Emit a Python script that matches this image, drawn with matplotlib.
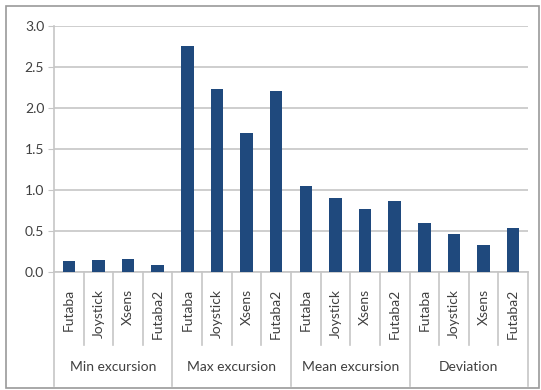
import matplotlib
matplotlib.use("Agg")
import matplotlib.pyplot as plt
from matplotlib.patches import Rectangle
import numpy as np

plt.rcParams['font.family'] = ['Lato', 'DejaVu Sans']

# data
groups = ['Min excursion', 'Max excursion', 'Mean excursion', 'Deviation']
devices = ['Futaba', 'Joystick', 'Xsens', 'Futaba2']
min_exc = [0.13, 0.15, 0.16, 0.09]
max_exc = [2.76, 2.23, 1.70, 2.21]
mean_exc = [1.05, 0.90, 0.77, 0.87]
deviation = [0.60, 0.46, 0.33, 0.54]

values = min_exc + max_exc + mean_exc + deviation
labels = devices * len(groups)

grid_col = '#c6c6c6'
txt_col = '#404040'
bar_col = '#1f497d'
fs = 10

fig = plt.figure(figsize=(5.41, 3.90), dpi=100)
ax = fig.add_axes([0.0998, 0.3026, 0.8762, 0.6307])

x = np.arange(len(values))
ax.bar(x, values, width=0.42, color=bar_col, zorder=3)

ax.set_xlim(-0.5, len(values) - 0.5)
ax.set_ylim(0, 3.0)
ax.set_yticks(np.arange(0, 3.01, 0.5))
ax.set_yticklabels(['%.1f' % v for v in np.arange(0, 3.01, 0.5)],
                   fontsize=fs, color=txt_col)
ax.yaxis.grid(True, color=grid_col, linewidth=1.2, zorder=0)
ax.tick_params(axis='y', length=4, color=grid_col, pad=3)

ax.set_xticks(x)
ax.set_xticklabels(labels, rotation=90, fontsize=fs, color=txt_col)
ax.tick_params(axis='x', length=0, pad=12)

for s in ['top', 'right']:
    ax.spines[s].set_visible(False)
for s in ['left', 'bottom']:
    ax.spines[s].set_color(grid_col)
    ax.spines[s].set_linewidth(1.2)

# category separators below the axis
trans = ax.get_xaxis_transform()
for i in range(1, len(values)):
    bottom = -0.463 if i % 4 == 0 else -0.297
    ax.plot([i - 0.5, i - 0.5], [0, bottom], color=grid_col, lw=1.2,
            transform=trans, clip_on=False)
ax.plot([-0.5, -0.5], [0, -0.463], color=grid_col, lw=1.2,
        transform=trans, clip_on=False)
ax.plot([len(values) - 0.5] * 2, [0, -0.463], color=grid_col, lw=1.2,
        transform=trans, clip_on=False)

for g, name in enumerate(groups):
    ax.text(g * 4 + 1.5, -0.385, name, transform=trans, ha='center',
            va='center', fontsize=fs, color=txt_col)

# outer frame
fig.patches.append(Rectangle((0.012, 0.005), 0.985, 0.98, transform=fig.transFigure,
                             fill=False, edgecolor='#9a9a9a', lw=1.2))

fig.savefig('out.png', dpi=100)
